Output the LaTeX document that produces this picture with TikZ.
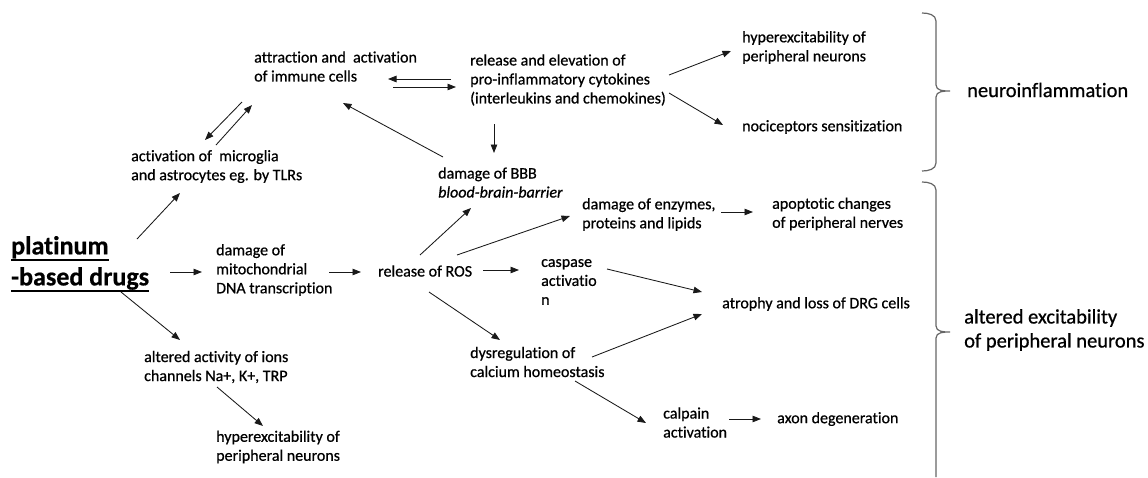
\documentclass[tikz,border=0pt]{standalone}
\usepackage{fontspec}
\setmainfont{Carlito}[Ligatures=NoCommon, FakeBold=0.7]
\usetikzlibrary{arrows.meta}
\newcommand\myul[1]{\leavevmode\vtop{\hbox{#1}\kern0.5pt\hrule height 1.6pt}}
\begin{document}
\begin{tikzpicture}[x=1pt,y=-1pt,
  txt/.style={anchor=west, inner sep=0pt, align=left, font=\fontsize{16}{19}\selectfont, text=black},
  big/.style={txt, font=\fontsize{20.5}{24}\selectfont},
  plat/.style={txt, font=\fontsize{26}{31}\selectfont\bfseries},
  arr/.style={-{Triangle[length=8.5pt,width=6.5pt]}, line width=0.85pt, draw=black!90},
  brace/.style={draw=black!60, line width=1.2pt}]
\useasboundingbox (0,0) rectangle (1148,477);

% nodes
\node[txt] (immune) at (254,66.5) {attraction and~ activation\\of immune cells};
\node[txt] (cyto) at (470,80) {release and elevation of\\pro-inflammatory cytokines\\(interleukins and chemokines)};
\node[txt] (hyper1) at (742,47.5) {hyperexcitability of\\peripheral neurons};
\node[txt] (noci) at (742,127) {nociceptors sensitization};
\node[txt] (micro) at (131,166.5) {activation of~ microglia\\and astrocytes eg. by TLRs};
\node[txt] (bbb) at (438,182.5) {damage of BBB\\\textit{blood-brain-barrier}};
\node[txt] (enz) at (582,214.5) {damage of enzymes,\\proteins and lipids};
\node[txt] (apop) at (772,214) {apoptotic changes\\of peripheral nerves};
\node[plat] (pl) at (11,264) {\myul{platinum}\\\myul{-based drugs}};
\node[txt] (mito) at (216,270) {damage of\\mitochondrial\\DNA transcription};
\node[txt] (ros) at (378,271) {release of ROS};
\node[txt] (casp) at (541,282) {caspase\\activatio\\n};
\node[txt] (atro) at (722,304) {atrophy and loss of DRG cells};
\node[txt] (ions) at (144,367) {altered activity of ions\\channels Na+, K+, TRP};
\node[txt] (dys) at (470,362) {dysregulation of\\calcium homeostasis};
\node[txt] (calp) at (663,422.5) {calpain\\activation};
\node[txt] (axon) at (777,419) {axon degeneration};
\node[txt] (hyper2) at (216,447) {hyperexcitability of\\peripheral neurons};
\node[big] (neuro) at (967,90) {neuroinflammation};
\node[big] (alt) at (964,330) {altered excitability\\of peripheral neurons};

% braces
\draw[brace] (922,13) to[out=0,in=90] (936,21) -- (936,85)
  to[out=-90,in=180] (950,91) to[out=180,in=90] (936,97) -- (936,163)
  to[out=-90,in=0] (922,171);
\draw[brace] (922,182) to[out=0,in=90] (936,190) -- (936,326)
  to[out=-90,in=180] (950,332) to[out=180,in=90] (936,338) -- (936,477);

% connectors
\draw[arr] ([shift={(-12,35.5)}]immune.west) -- ([shift={(74,-26.5)}]micro.west);
\draw[arr] ([shift={(85,-21.5)}]micro.west) -- ([shift={(-2,38.5)}]immune.west);
\draw[arr] ([shift={(5,-25.5)}]bbb.west) -- ([shift={(89,36.5)}]immune.west);
\draw[arr] ([shift={(-19,-1)}]cyto.west) -- ([shift={(134,12.5)}]immune.west);
\draw[arr] ([shift={(139,20.5)}]immune.west) -- ([shift={(-14,7)}]cyto.west);
\draw[arr] ([shift={(199,-5)}]cyto.west) -- ([shift={(-11,3.5)}]hyper1.west);
\draw[arr] ([shift={(199,13)}]cyto.west) -- ([shift={(-19,-2)}]noci.west);
\draw[arr] ([shift={(24,44)}]cyto.west) -- ([shift={(56,-29.5)}]bbb.west);
\draw[arr] ([shift={(126,-25)}]pl.west) -- ([shift={(49,26.5)}]micro.west);
\draw[arr] ([shift={(159,8)}]pl.west) -- ([shift={(-14,2)}]mito.west);
\draw[arr] ([shift={(110,28)}]pl.west) -- ([shift={(36,-27)}]ions.west);
\draw[arr] ([shift={(113,2)}]mito.west) -- ([shift={(-17,1)}]ros.west);
\draw[arr] ([shift={(42,-16)}]ros.west) -- ([shift={(33,25.5)}]bbb.west);
\draw[arr] ([shift={(79,-16)}]ros.west) -- ([shift={(-12,1.5)}]enz.west);
\draw[arr] ([shift={(139,-2.5)}]enz.west) -- ([shift={(-19,-2)}]apop.west);
\draw[arr] ([shift={(105,-1)}]ros.west) -- ([shift={(-22,-12)}]casp.west);
\draw[arr] ([shift={(66,-13)}]casp.west) -- ([shift={(-20,-12)}]atro.west);
\draw[arr] ([shift={(51,21)}]ros.west) -- ([shift={(30,-22)}]dys.west);
\draw[arr] ([shift={(122,-5)}]dys.west) -- ([shift={(-20,10)}]atro.west);
\draw[arr] ([shift={(105,19)}]dys.west) -- ([shift={(-17,0.5)}]calp.west);
\draw[arr] ([shift={(66,-3.5)}]calp.west) -- ([shift={(-16,0)}]axon.west);
\draw[arr] ([shift={(73,20)}]ions.west) -- ([shift={(47,-21)}]hyper2.west);
\end{tikzpicture}
\end{document}
